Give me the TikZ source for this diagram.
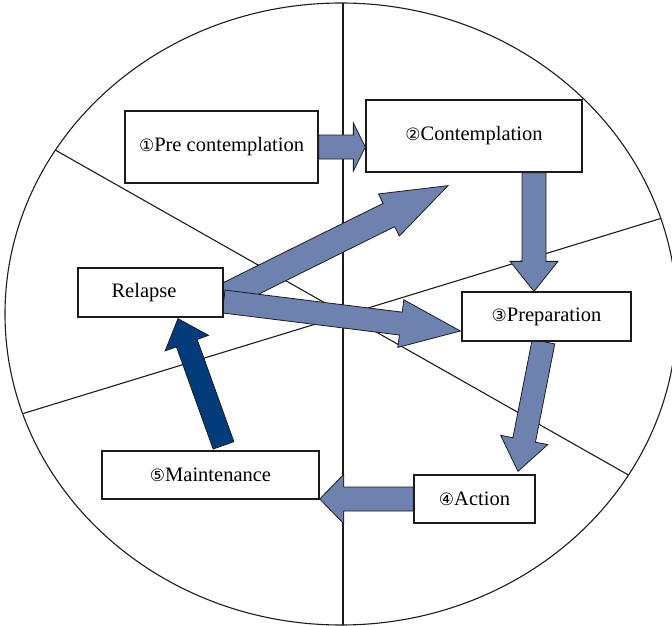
\documentclass[tikz,border=0pt]{standalone}
\usepackage{fontspec}
\setmainfont{Liberation Serif}
\newfontfamily\circfont{DejaVu Sans}
\usetikzlibrary{calc}

\definecolor{arrowfill}{HTML}{6E82B0}
\definecolor{darkfill}{HTML}{023C7A}
\definecolor{inkline}{HTML}{1C1C1C}

\pgfdeclarelayer{bg}
\pgfdeclarelayer{arrows}
\pgfsetlayers{bg,arrows,main}

% circled stage number in front of a label
\newcommand\stagenum[1]{{\circfont\fontsize{17}{17}\selectfont #1}}

% block arrow: #1 style, #2 tail, #3 tip, #4 shaft half width, #5 head half width, #6 head length
\newcommand\blkarrow[6]{%
  \coordinate (hb) at ($(#3)!#6!(#2)$);
  \draw[#1] ($(#2)!#4!90:(#3)$) -- ($(hb)!#4!90:(#3)$) -- ($(hb)!#5!90:(#3)$)
    -- (#3) -- ($(hb)!#5!-90:(#3)$) -- ($(hb)!#4!-90:(#3)$)
    -- ($(#2)!#4!-90:(#3)$) -- cycle;}

\tikzset{
  stagebox/.style={draw=inkline, line width=1.3pt, fill=white, inner sep=0pt,
    font=\fontsize{20.5}{24}\selectfont},
  lightarrow/.style={fill=arrowfill, draw=inkline, line width=0.8pt, line join=miter},
  darkarrow/.style={fill=darkfill, draw=inkline, line width=0.8pt, line join=miter},
  sector/.style={draw=inkline, line width=1.1pt},
}

\begin{document}
\begin{tikzpicture}[x=1pt, y=-1pt]
\useasboundingbox (0,0) rectangle (672,626);

% stages
\node[stagebox, minimum width=193pt, minimum height=72pt] (pre) at (221.5,147) {\stagenum{①}Pre contemplation};
\node[stagebox, minimum width=216pt, minimum height=72pt] (con) at (474,136) {\stagenum{②}Contemplation};
\node[stagebox, minimum width=145pt, minimum height=49pt] (rel) at (150.5,292.5) {Relapse\hspace*{13pt}};
\node[stagebox, minimum width=169pt, minimum height=49pt] (prep) at (546.5,316.5) {\stagenum{③}Preparation};
\node[stagebox, minimum width=121pt, minimum height=48pt] (act) at (474.5,499) {\stagenum{④}Action};
\node[stagebox, minimum width=217pt, minimum height=48pt] (main) at (210.5,475) {\stagenum{⑤}Maintenance};

% wheel divided into sectors
\begin{pgfonlayer}{bg}
  \begin{scope}
    \clip (341,314) ellipse [x radius=336, y radius=311];
    \draw[sector] (343,0) -- (343,626);
    \draw[sector] (0,118.7) -- (672,499.7);
    \draw[sector] (0,420.6) -- (672,215);
  \end{scope}
  \draw[sector] (341,314) ellipse [x radius=336, y radius=311];
\end{pgfonlayer}

% transitions between stages
\begin{pgfonlayer}{arrows}
  \coordinate (t1) at (con.west |- pre.east);
  \blkarrow{lightarrow}{pre.east}{t1}{12pt}{24pt}{12pt}

  \coordinate (s2) at ($(con.south)+(60,0)$);
  \coordinate (t2) at (s2 |- prep.north);
  \blkarrow{lightarrow}{s2}{t2}{12pt}{24pt}{30pt}

  \coordinate (s3) at ($(prep.south)+(-3,0)$);
  \coordinate (t3) at ($(act.north)+(43.5,-3)$);
  \blkarrow{lightarrow}{s3}{t3}{11.5pt}{24pt}{32pt}

  \coordinate (t4) at (main.east |- act.west);
  \blkarrow{lightarrow}{act.west}{t4}{12pt}{24.5pt}{24pt}

  \coordinate (s6) at ($(rel.east)+(0,4.5)$);
  \coordinate (t6) at ($(con.south)+(-26,13)$);
  \blkarrow{lightarrow}{s6}{t6}{13pt}{23.5pt}{66pt}

  \coordinate (s7) at ($(rel.east)+(0,9)$);
  \coordinate (t7) at ($(prep.west)+(-1,14.5)$);
  \blkarrow{lightarrow}{s7}{t7}{11.5pt}{24pt}{60pt}

  \coordinate (s5) at ($(main.north)+(13,-5)$);
  \coordinate (t5) at ($(rel.south)+(27.5,1)$);
  \blkarrow{darkarrow}{s5}{t5}{11pt}{23pt}{26pt}
\end{pgfonlayer}
\end{tikzpicture}
\end{document}
